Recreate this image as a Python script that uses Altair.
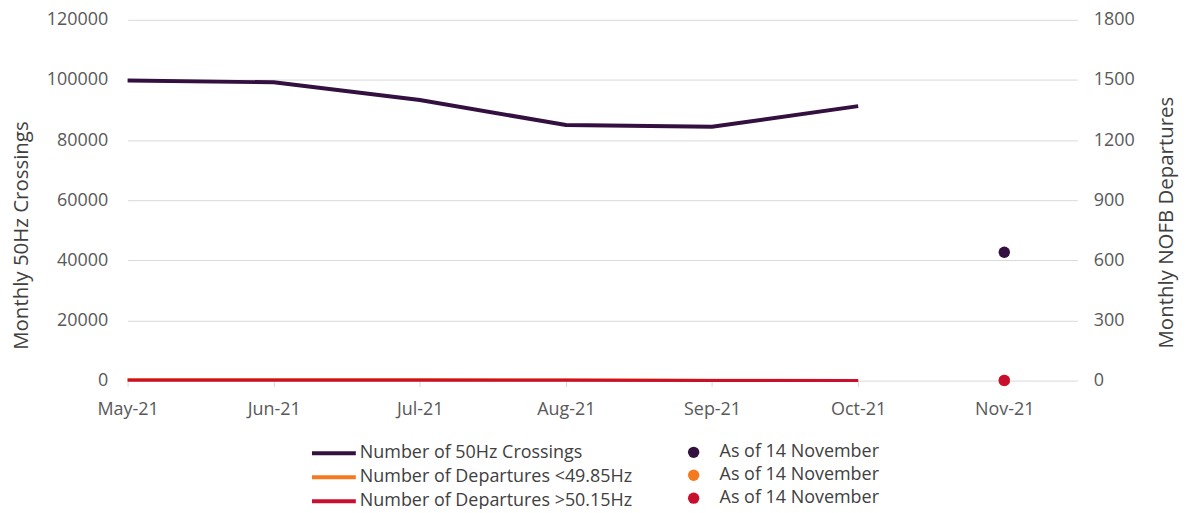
import altair as alt
import pandas as pd

months = ["May-21", "Jun-21", "Jul-21", "Aug-21", "Sep-21", "Oct-21", "Nov-21"]
crossings = [99800, 99200, 93300, 85000, 84400, 91300]
dep_low = [6, 6, 5, 4, 2, 1]
dep_high = [2, 2, 2, 2, 1, 1]
nov_crossings = 42700
nov_low = 1
nov_high = 1

series = ["Number of 50Hz Crossings", "Number of Departures <49.85Hz", "Number of Departures >50.15Hz"]
dot_keys = ["A", "B", "C"]
colors = ["#33103f", "#f47a20", "#c8102e"]

line_left = pd.DataFrame({"idx": list(range(6)), "val": crossings, "series": series[0]})
line_right = pd.concat([
    pd.DataFrame({"idx": list(range(6)), "val": dep_low, "series": series[1]}),
    pd.DataFrame({"idx": list(range(6)), "val": dep_high, "series": series[2]}),
])
dot_left = pd.DataFrame({"idx": [6], "val": [nov_crossings], "key": ["A"]})
dot_right = pd.DataFrame({"idx": [6, 6], "val": [nov_low, nov_high], "key": ["B", "C"]})

font = "Open Sans"
label_expr = "[" + ",".join("'%s'" % m for m in months) + "][datum.value]"
LBL = 18
TTL = 20.5

x = alt.X("idx:Q", scale=alt.Scale(domain=[0, 6.5], nice=False, zero=False),
          axis=alt.Axis(values=list(range(7)), labelExpr=label_expr, title=None, grid=False,
                        domain=False, tickColor="#d9d9d9", tickSize=6, labelPadding=14,
                        labelFlush=False,
                        labelFontSize=LBL, labelColor="#595959", labelFont=font))

color_enc = alt.Color("series:N", scale=alt.Scale(domain=series, range=colors),
                      legend=alt.Legend(title=None, orient="none", legendX=211, legendY=425,
                                        symbolType="M-4.5,0H1", symbolSize=256, symbolStrokeWidth=4,
                                        labelFontSize=LBL, labelColor="#404040", labelFont=font,
                                        labelOffset=2, rowPadding=5, labelLimit=400))
fill_enc = alt.Fill("key:N", scale=alt.Scale(domain=dot_keys, range=colors),
                    legend=alt.Legend(title=None, orient="none", legendX=559, legendY=425,
                                      symbolType="circle", symbolSize=130, symbolStrokeWidth=0,
                                      labelFontSize=LBL, labelColor="#404040", labelFont=font,
                                      labelOffset=17, rowPadding=5, labelLimit=400,
                                      labelExpr="'As of 14 November'"))

left_y = alt.Y("val:Q", scale=alt.Scale(domain=[0, 120000], nice=False),
               axis=alt.Axis(title="Monthly 50Hz Crossings", values=[0, 20000, 40000, 60000, 80000, 100000, 120000],
                             format="d", titleY=216,
                             domain=False, ticks=False, gridColor="#d9d9d9", labelPadding=20,
                             labelFontSize=LBL, labelColor="#595959", labelFont=font,
                             titleFontSize=TTL, titleFontWeight="normal", titleColor="#404040",
                             titleFont=font, titlePadding=15))
right_y = alt.Y("val:Q", scale=alt.Scale(domain=[0, 1800], nice=False),
                axis=alt.Axis(title="Monthly NOFB Departures", orient="right", titleAngle=270,
                              titleY=203,
                              values=[0, 300, 600, 900, 1200, 1500, 1800], grid=False, format="d",
                              domain=False, ticks=False, labelPadding=16,
                              labelFontSize=LBL, labelColor="#595959", labelFont=font,
                              titleFontSize=TTL, titleFontWeight="normal", titleColor="#404040",
                              titleFont=font, titlePadding=42))

l1 = alt.Chart(line_left).mark_line(strokeWidth=4).encode(x=x, y=left_y, color=color_enc)
l3 = alt.Chart(dot_left).mark_circle(size=130, opacity=1).encode(x=x, y=left_y, fill=fill_enc)
l2 = alt.Chart(line_right).mark_line(strokeWidth=3).encode(x=x, y=right_y, color=color_enc)
l4 = alt.Chart(dot_right).mark_circle(size=130, opacity=1).encode(x=x, y=right_y, fill=fill_enc)

chart = alt.layer(alt.layer(l1, l3), alt.layer(l2, l4)).resolve_scale(y="independent").properties(
    width=953, height=362,
    autosize=alt.AutoSizeParams(type="none"),
    padding={"left": 120, "top": 11, "right": 102, "bottom": 128},
).configure_view(stroke=None)

chart.save("out.html", embed_options={"renderer": "svg", "actions": False})
